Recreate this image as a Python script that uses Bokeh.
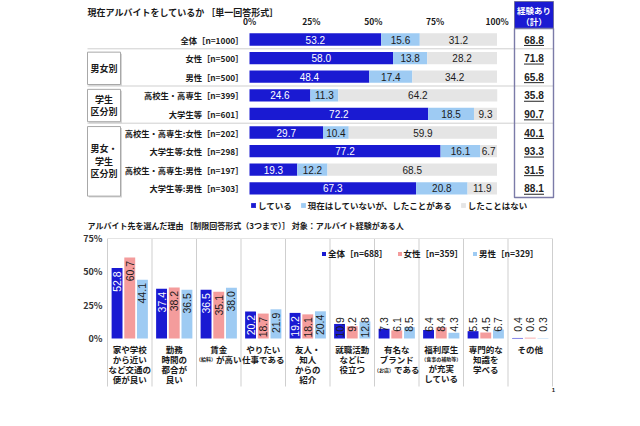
import numpy as np
from bokeh.plotting import figure
from bokeh.models import ColumnDataSource, Range1d, Legend, LegendItem
from bokeh.layouts import column
from bokeh.embed import file_html
from bokeh.resources import INLINE
from bokeh.core.properties import value

# ------------------------------------------------------------------ DATA
top_title = "現在アルバイトをしているか ［単一回答形式］"
row_labels = ["全体［n=1000］", "女性［n=500］", "男性［n=500］",
              "高校生・高専生［n=399］", "大学生等［n=601］",
              "高校生・高専生:女性［n=202］", "大学生等:女性［n=298］",
              "高校生・高専生:男性［n=197］", "大学生等:男性［n=303］"]
doing = [53.2, 58.0, 48.4, 24.6, 72.2, 29.7, 77.2, 19.3, 67.3]
past = [15.6, 13.8, 17.4, 11.3, 18.5, 10.4, 16.1, 12.2, 20.8]
never = [31.2, 28.2, 34.2, 64.2, 9.3, 59.9, 6.7, 68.5, 11.9]
experienced = [68.8, 71.8, 65.8, 35.8, 90.7, 40.1, 93.3, 31.5, 88.1]
status_names = ["している", "現在はしていないが、したことがある", "したことはない"]
group_labels = ["男女別", "学生\n区分別", "男女・\n学生\n区分別"]
group_first = [1, 3, 5]
group_last = [2, 4, 8]
pct_ticks = [0, 25, 50, 75, 100]
pct_tick_labels = ["0%", "25%", "50%", "75%", "100%"]
exp_header = ["経験あり", "（計）"]

bottom_title = "アルバイト先を選んだ理由 ［制限回答形式（3つまで）］ 対象：アルバイト経験がある人"
reasons = [
    ["家や学校", "から近い", "など交通の", "便が良い"],
    ["勤務", "時間の", "都合が", "良い"],
    ["賃金", "（給料）が高い"],
    ["やりたい", "仕事である"],
    ["友人・", "知人", "からの", "紹介"],
    ["就職活動", "などに", "役立つ"],
    ["有名な", "ブランド", "（お店）である"],
    ["福利厚生", "（食事の補助等）", "が充実", "している"],
    ["専門的な", "知識を", "学べる"],
    ["その他"],
]
total = [52.8, 37.4, 36.5, 20.2, 19.2, 10.9, 7.3, 6.4, 5.5, 0.4]
female = [60.7, 38.2, 35.1, 18.7, 18.1, 9.2, 6.1, 8.4, 4.5, 0.6]
male = [44.1, 36.5, 38.0, 21.9, 20.4, 12.8, 8.5, 4.3, 6.7, 0.3]
respondent_labels = ["全体［n=688］", "女性［n=359］", "男性［n=329］"]
y_ticks = [0, 25, 50, 75]
y_tick_labels = ["0%", "25%", "50%", "75%"]

# ------------------------------------------------------------------ STYLE
JP = value("Noto Sans CJK JP")
NUM = value("Liberation Sans")
BLUE = "#1a1ad2"
LBLUE = "#9ecbf3"
GRAY = "#e5e5e5"
PINK = "#f49c9c"
TEXT = "#1a1a1a"
SEP = "#cfcfcf"

W = 640
H1, H2 = 232, 193

# ------------------------------------------------------------------ TOP CHART
XPX0, XSC = 249.0, 2.475    # px of 0 %, px per %
YPX0, YSC = 39.0, 18.6      # px of first row, px per row


def tx(px):
    return (px - XPX0) / XSC


def ty(py):
    return (py - YPX0) / YSC


p1 = figure(width=W, height=H1, x_range=Range1d(tx(0), tx(W)),
            y_range=Range1d(ty(H1), ty(0)), x_axis_location=None, y_axis_location=None,
            toolbar_location=None, output_backend="svg", min_border=0)
p1.xgrid.visible = False
p1.ygrid.visible = False
p1.outline_line_color = None

n = len(row_labels)
idx = np.arange(n)
d0 = np.array(doing)
d1 = d0 + np.array(past)
d2 = d1 + np.array(never)
first = np.array(group_first)
last = np.array(group_last)

# separators between groups
p1.segment(x0=tx(87), x1=tx(553), y0=first - 0.5, y1=first - 0.5, line_color=SEP, line_width=1)

# group boxes
gtop = first - 0.32
gbot = last + 0.42
p1.quad(left=tx(88.5), right=tx(121.5), top=gtop + 0.08, bottom=gbot + 0.08, fill_color="#d6d6d6", line_color=None)
p1.quad(left=tx(87), right=tx(120), top=gtop, bottom=gbot, fill_color="white", line_color="#a8a8a8", line_width=1)
p1.text(x=tx(103.5), y=(gtop + gbot) / 2, text=group_labels, text_align="center", text_baseline="middle",
        text_font=JP, text_font_style="bold", text_font_size="9px", text_color=TEXT, text_line_height=0.95)

# row labels
p1.text(x=tx(243), y=idx, text=row_labels, text_align="right", text_baseline="middle",
        text_font=JP, text_font_style="bold", text_font_size="8.3px", text_color=TEXT)

# stacked bars
src = ColumnDataSource(dict(y=idx, l0=np.zeros(n), r0=d0, l1=d0, r1=d1, l2=d1, r2=d2))
rb0 = p1.hbar(y="y", left="l0", right="r0", height=0.66, fill_color=BLUE, line_color=None, source=src)
rb1 = p1.hbar(y="y", left="l1", right="r1", height=0.66, fill_color=LBLUE, line_color=None, source=src)
rb2 = p1.hbar(y="y", left="l2", right="r2", height=0.66, fill_color=GRAY, line_color=None, source=src)

lab_x = np.concatenate([d0 / 2, (d0 + d1) / 2, (d1 + d2) / 2])
lab_y = np.concatenate([idx, idx, idx])
lab_t = [f"{v:.1f}" for v in doing + past + never]
lab_c = ["white"] * n + [TEXT] * (2 * n)
p1.text(x=lab_x, y=lab_y, text=lab_t, text_color=lab_c, text_align="center", text_baseline="middle",
        text_font=NUM, text_font_size="10px")

# percent tick labels
p1.text(x=pct_ticks, y=ty(20.5), text=pct_tick_labels, text_align="center", text_baseline="middle",
        text_font=JP, text_font_style="bold", text_font_size="8.5px", text_color=TEXT)

# experienced column
p1.quad(left=tx(514), right=tx(553), top=ty(1), bottom=ty(28), fill_color=BLUE, line_color="#6f6fa0", line_width=1)
p1.quad(left=tx(514), right=tx(553), top=ty(28), bottom=ty(197), fill_color=None, line_color="#7b7ba8", line_width=1.4)
p1.text(x=[tx(533.5)] * 2, y=[ty(9.5), ty(20.5)], text=exp_header, text_align="center", text_baseline="middle",
        text_font=JP, text_font_style="bold", text_font_size="8.5px", text_color="white")
p1.text(x=tx(533.5), y=idx, text=[f"{v:.1f}" for v in experienced], text_align="center", text_baseline="middle",
        text_font=NUM, text_font_style="bold", text_font_size="10px", text_color="#222222")
p1.segment(x0=tx(523.5), x1=tx(543.5), y0=idx + 0.32, y1=idx + 0.32, line_color="#222222", line_width=1)

# titles
p1.text(x=[tx(87)], y=[ty(12)], text=[top_title], text_align="left", text_baseline="middle",
        text_font=JP, text_font_style="bold", text_font_size="9px", text_color=TEXT)
p1.text(x=[tx(87)], y=[ty(225)], text=[bottom_title], text_align="left", text_baseline="middle",
        text_font=JP, text_font_style="bold", text_font_size="8px", text_color=TEXT)

leg1 = Legend(items=[LegendItem(label=status_names[0], renderers=[rb0]),
                     LegendItem(label=status_names[1], renderers=[rb1]),
                     LegendItem(label=status_names[2], renderers=[rb2])],
              location=(250, H1 - 211), orientation="horizontal", glyph_width=6, glyph_height=6,
              label_standoff=2, spacing=8, padding=0, margin=0, label_height=10,
              label_text_font="Noto Sans CJK JP", label_text_font_style="bold", label_text_font_size="8.5px",
              label_text_color=TEXT, border_line_color=None, background_fill_alpha=0)
p1.add_layout(leg1)

# ------------------------------------------------------------------ BOTTOM CHART
BXPX0, BXSC = 107.0, 44.5          # px of first category edge, px per category
BYPX0, BYSC = 338.0, 100.0 / 75.0  # px of 0 %, px per %


def bx(px):
    return (px - BXPX0) / BXSC


def by(py):
    return (BYPX0 - py) / BYSC


p2 = figure(width=W, height=H2, x_range=Range1d(bx(0), bx(W)), y_range=Range1d(by(H1 + H2), by(H1)),
            x_axis_location=None, y_axis_location=None, toolbar_location=None, output_backend="svg",
            min_border=0)
p2.xgrid.visible = False
p2.ygrid.visible = False
p2.outline_line_color = None

# y tick labels
p2.text(x=bx(102), y=y_ticks, text=y_tick_labels, text_align="right", text_baseline="middle",
        text_font=JP, text_font_style="bold", text_font_size="9px", text_color="#333333")

m = len(total)
bounds = np.arange(m + 1)
p2.segment(x0=bounds, x1=bounds, y0=by(386), y1=max(y_ticks), line_color=SEP, line_width=1)
p2.segment(x0=[0], x1=[m], y0=[max(y_ticks)], y1=[max(y_ticks)], line_color="#e4e4e4", line_width=1)

centers = np.arange(m) + 0.5
offs = [-0.285, 0.0, 0.285]
cols = [BLUE, PINK, LBLUE]
series = [total, female, male]
rends = []
for s, o, c in zip(series, offs, cols):
    rends.append(p2.vbar(x=centers + o, top=s, bottom=0, width=0.245, fill_color=c, line_color=None))

bl_x, bl_y, bl_t, bl_c = [], [], [], []
for k, (s, o) in enumerate(zip(series, offs)):
    for j, v in enumerate(s):
        yy = max(v - 2.5, 16.0)
        bl_x.append(centers[j] + o)
        bl_y.append(yy)
        bl_t.append(f"{v:.1f}")
        bl_c.append("white" if (k == 0 and v - 2.5 >= 16.0) else TEXT)
p2.text(x=bl_x, y=bl_y, text=bl_t, text_color=bl_c, angle=np.pi / 2, text_align="right",
        text_baseline="middle", text_font=NUM, text_font_size="10.5px")

# category labels (multi-line, small parenthetical parts)
NORMAL, SMALL = 8.5, 5.0
cl_x, cl_y, cl_t, cl_s = [], [], [], []
for j, lines in enumerate(reasons):
    ypx = 348.0
    for line in lines:
        if line.startswith("（"):
            cut = line.index("）") + 1
            small, rest = line[:cut], line[cut:]
        else:
            small, rest = "", line
        w_small = len(small) * SMALL
        w_rest = len(rest) * NORMAL
        start = BXPX0 + (j + 0.5) * BXSC - (w_small + w_rest) / 2
        if small:
            cl_x.append(bx(start + w_small / 2)); cl_y.append(by(ypx)); cl_t.append(small); cl_s.append(f"{SMALL}px")
        if rest:
            cl_x.append(bx(start + w_small + w_rest / 2)); cl_y.append(by(ypx)); cl_t.append(rest); cl_s.append(f"{NORMAL}px")
        ypx += 9.0 if (small and not rest) else 10.3
p2.text(x=cl_x, y=cl_y, text=cl_t, text_font_size=cl_s, text_align="center", text_baseline="middle",
        text_font=JP, text_font_style="bold", text_color=TEXT)

p2.text(x=[bx(553)], y=[by(389)], text=["1"], text_align="center", text_baseline="middle",
        text_font=NUM, text_font_style="bold", text_font_size="6px", text_color=TEXT)

leg2 = Legend(items=[LegendItem(label=lbl, renderers=[r]) for lbl, r in zip(respondent_labels, rends)],
              location=(321, H1 + H2 - 259), orientation="horizontal", glyph_width=5, glyph_height=5,
              label_standoff=2, spacing=9, padding=0, margin=0, label_height=10,
              label_text_font="Noto Sans CJK JP", label_text_font_style="bold", label_text_font_size="8.5px",
              label_text_color=TEXT, border_line_color=None, background_fill_alpha=0)
p2.add_layout(leg2)

layout = column(p1, p2)
open("out.html", "w").write(file_html(layout, INLINE))
